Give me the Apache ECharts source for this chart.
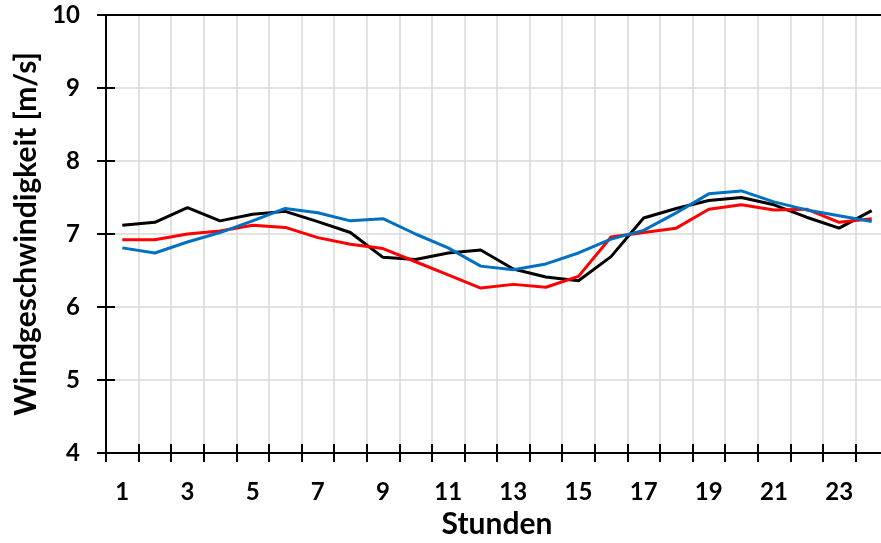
<!DOCTYPE html>
<html>
<head>
<meta charset="utf-8">
<script src="https://cdn.jsdelivr.net/npm/echarts@6/dist/echarts.min.js"></script>
<style>
  html, body { margin: 0; padding: 0; background: #fff; }
  #chart { width: 881px; height: 543px; }
</style>
</head>
<body>
<div id="chart"></div>
<script>
// Stunden 1..24
const hours = ['1', '2', '3', '4', '5', '6', '7', '8', '9', '10', '11', '12',
  '13', '14', '15', '16', '17', '18', '19', '20', '21', '22', '23', '24']

// Windgeschwindigkeit [m/s] je Reihe
const blackValues = [7.12, 7.16, 7.36, 7.18, 7.27, 7.31, 7.17, 7.02, 6.68, 6.65, 6.74, 6.78,
  6.52, 6.41, 6.36, 6.69, 7.22, 7.35, 7.46, 7.50, 7.40, 7.23, 7.08, 7.32]
const redValues = [6.92, 6.92, 7.00, 7.04, 7.12, 7.09, 6.95, 6.86, 6.80, 6.62, 6.44, 6.26,
  6.31, 6.27, 6.42, 6.96, 7.02, 7.08, 7.34, 7.40, 7.33, 7.34, 7.16, 7.21]
const blueValues = [6.81, 6.74, 6.89, 7.02, 7.18, 7.35, 7.29, 7.18, 7.21, 7.00, 6.81, 6.56,
  6.51, 6.59, 6.74, 6.93, 7.05, 7.29, 7.55, 7.59, 7.44, 7.33, 7.25, 7.17]

const yMin = 4
const yMax = 10
const yStep = 1

const font = 'Lato'
const chart = echarts.init(document.getElementById('chart'), null, { renderer: 'canvas' })

function line(name, data, color) {
  return {
    name: name,
    type: 'line',
    data: data,
    xAxisIndex: 0,
    yAxisIndex: 0,
    symbol: 'none',
    lineStyle: { color: color, width: 3 },
    itemStyle: { color: color },
    z: 5,
    animation: false,
  }
}

let option = {
  backgroundColor: '#fff',
  grid: { top: 15, bottom: 90, left: 106, right: -7, outerBoundsMode: 'none', containLabel: false },
  xAxis: [
    {
      type: 'category',
      data: hours,
      boundaryGap: true,
      name: 'Stunden',
      nameLocation: 'middle',
      nameGap: 54,
      nameTextStyle: { fontFamily: font, fontWeight: 'bold', fontSize: 30, color: '#000' },
      axisLine: { show: true, lineStyle: { color: '#000', width: 2 } },
      axisTick: { show: true, interval: 0, length: 9, lineStyle: { color: '#000', width: 2 } },
      axisLabel: { interval: 1, margin: 27, fontFamily: font, fontWeight: 'bold', fontSize: 24, color: '#000' },
      splitLine: { show: true, interval: 0, lineStyle: { color: '#d9d9d9', width: 1.5 } },
      z: 3,
    },
    {
      // Striche nach innen, damit sie die Achse kreuzen
      type: 'category',
      data: hours,
      boundaryGap: true,
      position: 'bottom',
      axisLine: { show: false },
      axisTick: { show: true, inside: true, interval: 0, length: 9, lineStyle: { color: '#000', width: 2 } },
      axisLabel: { show: false },
      splitLine: { show: false },
      z: 4,
    },
    {
      // obere Rahmenlinie
      type: 'category',
      data: hours,
      position: 'top',
      axisLine: { show: true, lineStyle: { color: '#000', width: 2 } },
      axisTick: { show: false },
      axisLabel: { show: false },
      splitLine: { show: false },
      z: 4,
    },
  ],
  yAxis: [
    {
      type: 'value',
      min: yMin,
      max: yMax,
      interval: yStep,
      name: 'Windgeschwindigkeit [m/s]',
      nameLocation: 'middle',
      nameGap: 62,
      nameTextStyle: { fontFamily: font, fontWeight: 'bold', fontSize: 30, color: '#000' },
      axisLine: { show: true, lineStyle: { color: '#000', width: 2 } },
      axisTick: { show: true, length: 9, lineStyle: { color: '#000', width: 2 } },
      axisLabel: { margin: 26, fontFamily: font, fontWeight: 'bold', fontSize: 24, color: '#000' },
      splitLine: { show: true, lineStyle: { color: '#d9d9d9', width: 1.5 } },
      z: 3,
    },
    {
      type: 'value',
      min: yMin,
      max: yMax,
      interval: yStep,
      position: 'left',
      axisLine: { show: false },
      axisTick: { show: true, inside: true, length: 9, lineStyle: { color: '#000', width: 2 } },
      axisLabel: { show: false },
      splitLine: { show: false },
      z: 4,
    },
  ],
  series: [
    line('Reihe 1', blackValues, '#000000'),
    line('Reihe 2', redValues, '#ff0000'),
    line('Reihe 3', blueValues, '#0070c0'),
  ],
}
chart.setOption(option)
</script>
</body>
</html>
